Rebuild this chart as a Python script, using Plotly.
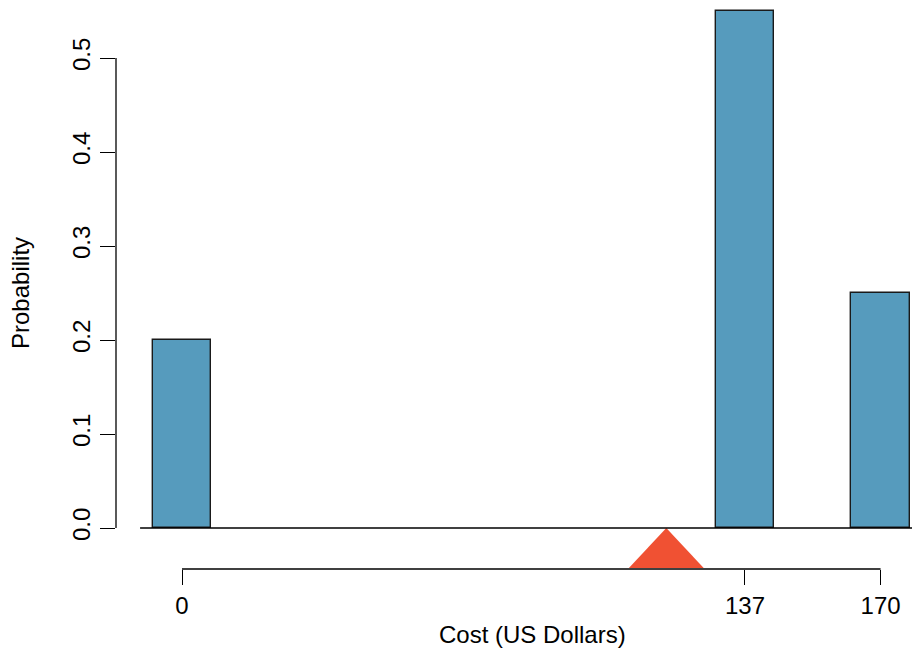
import plotly.graph_objects as go

# Data
costs = [0, 137, 170]
probs = [0.20, 0.55, 0.25]
cost_ticks = [0, 137, 170]
prob_ticks = [0.0, 0.1, 0.2, 0.3, 0.4, 0.5]

mean_cost = sum(c * p for c, p in zip(costs, probs))

BLUE = "#569BBD"
RED = "#F05133"
FONT = "Liberation Sans, Arial, Helvetica, sans-serif"

x_range = [-16.06, 177.64]
y_range = [-0.04362, 0.56170]

tri_half = 9.1
tri_h = 0.0426

fig = go.Figure()

fig.add_trace(go.Bar(
    x=costs, y=probs, width=14.3,
    marker=dict(color=BLUE, line=dict(color="#1a1a1a", width=1.4)),
    showlegend=False, hoverinfo="x+y",
))

fig.add_trace(go.Scatter(
    x=[mean_cost - tri_half, mean_cost, mean_cost + tri_half, mean_cost - tri_half],
    y=[-tri_h, 0, -tri_h, -tri_h],
    mode="lines", fill="toself", fillcolor=RED,
    line=dict(width=0, color=RED),
    showlegend=False, hoverinfo="skip",
))

shapes = [
    # y axis line (0 to 0.5)
    dict(type="line", xref="paper", yref="y", x0=0, x1=0, y0=0, y1=0.5,
         line=dict(color="black", width=1.3)),
    # x axis line (0 to 170)
    dict(type="line", xref="x", yref="paper", x0=0, x1=170, y0=0, y1=0,
         line=dict(color="black", width=1.3)),
    # baseline at probability 0
    dict(type="line", xref="x", yref="y", x0=-10.2, x1=x_range[1], y0=0, y1=0,
         line=dict(color="black", width=1.3)),
]

fig.update_layout(
    width=912, height=650,
    margin=dict(l=116, r=0, t=0, b=81),
    paper_bgcolor="white", plot_bgcolor="white",
    font=dict(family=FONT, size=24, color="black"),
    shapes=shapes,
    bargap=0,
    xaxis=dict(
        range=x_range, tickvals=cost_ticks, ticktext=[str(t) for t in cost_ticks],
        ticks="outside", ticklen=15, tickwidth=1.3, tickcolor="black",
        showline=False, showgrid=False, zeroline=False,
        tickfont=dict(size=24, family=FONT),
    ),
    yaxis=dict(
        range=y_range, tickvals=prob_ticks, ticktext=[f"{t:.1f}" for t in prob_ticks],
        ticks="outside", ticklen=15, tickwidth=1.3, tickcolor="black",
        tickangle=-90,
        showline=False, showgrid=False, zeroline=False,
        tickfont=dict(size=24, family=FONT),
    ),
    annotations=[
        dict(text="Cost (US Dollars)", xref="paper", yref="paper",
             x=(532 - 116) / 796, y=-(634 - 569) / 569, xanchor="center", yanchor="middle",
             showarrow=False, font=dict(size=24, family=FONT)),
        dict(text="Probability", xref="paper", yref="paper",
             x=-(116 - 21) / 796, y=(569 - 293) / 569, xanchor="center", yanchor="middle",
             textangle=-90, showarrow=False, font=dict(size=24, family=FONT)),
    ],
)

fig.write_html(
    "out.html",
    config={"displayModeBar": False},
    post_script="document.body.style.margin='0';document.body.style.overflow='hidden';",
)
